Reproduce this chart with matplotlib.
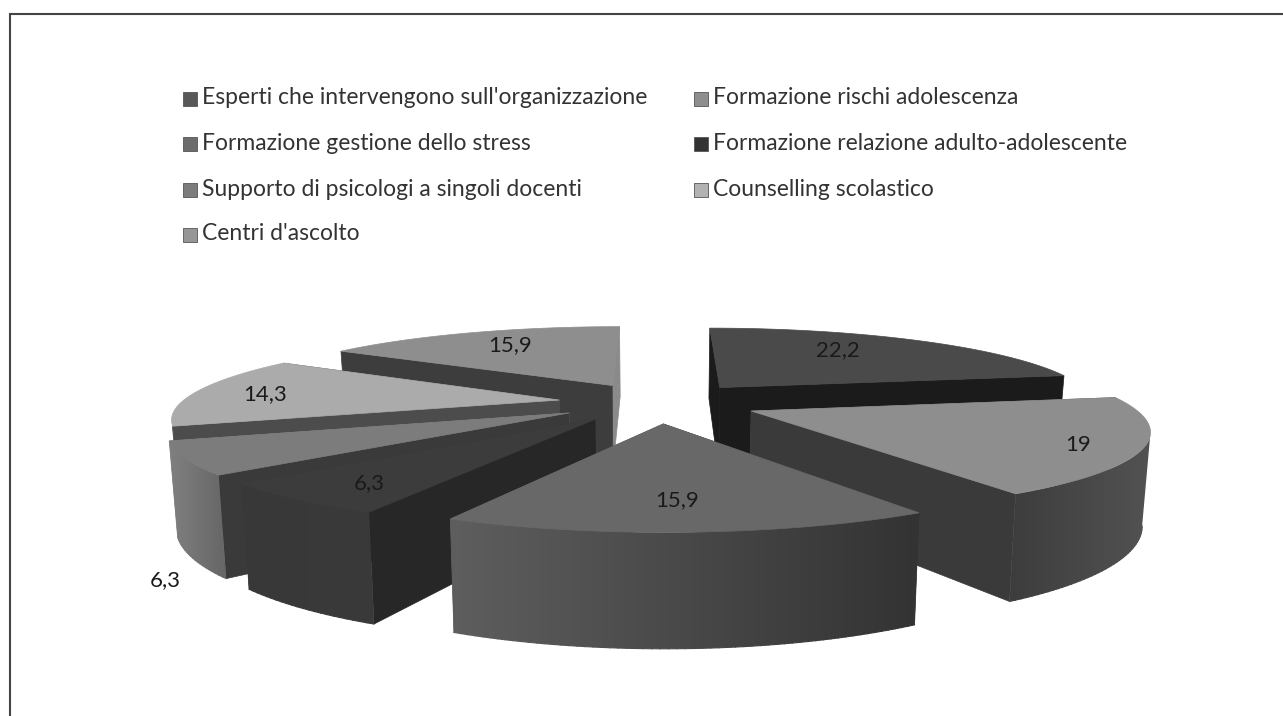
import numpy as np
import matplotlib
matplotlib.use("Agg")
import matplotlib.pyplot as plt
from matplotlib.colors import to_rgb
from matplotlib.patches import Polygon, Rectangle

# Values
categories = ["Esperti che intervengono sull'organizzazione", "Formazione rischi adolescenza",
              "Formazione gestione dello stress", "Formazione relazione adulto-adolescente",
              "Supporto di psicologi a singoli docenti", "Counselling scolastico",
              "Centri d'ascolto"]
values = [22.2, 19, 15.9, 6.3, 6.3, 14.3, 15.9]
value_labels = ["22,2", "19", "15,9", "6,3", "6,3", "14,3", "15,9"]

# Greys for each slice
top_colors = ["#4a4a4a", "#8e8e8e", "#686868", "#3c3c3c", "#7c7c7c", "#ababab", "#8e8e8e"]
radial_start = ["#1b1b1b", "#525252", "#333333", "#272727", "#3a3a3a", "#4c4c4c", "#3d3d3d"]
radial_end = ["#1b1b1b", "#3a3a3a", "#5e5e5e", "#383838", "#808080", "#4c4c4c", "#8a8a8a"]
rim_left = ["#1b1b1b", "#3d3d3d", "#5e5e5e", "#383838", "#808080", "#4c4c4c", "#3d3d3d"]
rim_right = ["#1b1b1b", "#525252", "#333333", "#3a3a3a", "#666666", "#4c4c4c", "#3d3d3d"]
legend_colors = ["#585858", "#8e8e8e", "#6c6c6c", "#333333", "#7c7c7c", "#b2b2b2", "#969696"]

# Layout, in pixels of the picture
CX, CY = 658, 402.5
RADIUS = 378
EXPLODE = 100
DEPTH = 5.0 * RADIUS   # camera distance
TILT = 0.203           # vertical squash of the ground plane
HEIGHT = 87
LOWER_SHRINK = 0.983

label_x = [838, 1078, 677, 369, 165, 265, 510]
label_y = [350, 445, 500, 483, 580, 394, 345]
legend_x = [183, 694]
legend_y = [99, 144, 190, 235]

order = [0]


def next_z():
    order[0] += 1
    return 2 + order[0]


def project(u, v, lower=False):
    # perspective projection of a point of the pie, front is v < 0
    s = DEPTH / (DEPTH + v)
    x = CX + u * s * (LOWER_SHRINK if lower else 1)
    y = CY - TILT * v * s + (HEIGHT * s if lower else 0)
    return x, y


def add_poly(ax, pts, color):
    ax.add_patch(Polygon(pts, closed=True, facecolor=color, edgecolor=color, linewidth=0.5, zorder=next_z()))


def add_rim(ax, i, rim_u, rim_v):
    # outer wall: horizontal gradient clipped to the wall outline
    upper = [project(u, v) for u, v in zip(rim_u, rim_v)]
    lower = [project(u, v, True) for u, v in zip(rim_u, rim_v)]
    pts = upper + lower[::-1]
    xs = [p[0] for p in pts]
    ys = [p[1] for p in pts]
    shade = np.linspace(0, 1, 256)[:, None]
    left, right = np.array(to_rgb(rim_left[i])), np.array(to_rgb(rim_right[i]))
    grad = left + (right - left) * shade
    z = next_z()
    im = ax.imshow(grad[None, :, :], extent=(min(xs), max(xs), max(ys), min(ys)), aspect="auto",
                   zorder=z, interpolation="bilinear")
    im.set_clip_path(Polygon(pts, closed=True, transform=ax.transData))
    # smooth the clipped bottom edge
    for k in range(len(lower) - 1):
        t = (lower[k][0] - min(xs)) / (max(xs) - min(xs))
        ax.plot([lower[k][0], lower[k + 1][0]], [lower[k][1], lower[k + 1][1]],
                color=tuple(left + (right - left) * t), lw=0.8, zorder=z)


def draw_slice(ax, i, start, end):
    mid = (start + end) / 2
    ou, ov = EXPLODE * np.sin(mid), EXPLODE * np.cos(mid)
    angles = np.linspace(start, end, max(int((end - start) * 60), 8))
    rim_u = ou + RADIUS * np.sin(angles)
    rim_v = ov + RADIUS * np.cos(angles)

    # the two radial walls, far one first
    walls = [(0, radial_start[i]), (-1, radial_end[i])]
    for k, color in sorted(walls, key=lambda w: -rim_v[w[0]]):
        add_poly(ax, [project(ou, ov), project(rim_u[k], rim_v[k]),
                      project(rim_u[k], rim_v[k], True), project(ou, ov, True)], color)

    # rim runs between the silhouette points of the projected slice
    xs = np.array([project(u, v)[0] for u, v in zip(rim_u, rim_v)])
    if mid < np.pi:
        lo, hi = int(np.argmax(xs)), len(xs) - 1
    else:
        lo, hi = 0, int(np.argmin(xs))
    if hi - lo > 1:
        add_rim(ax, i, rim_u[lo:hi + 1], rim_v[lo:hi + 1])

    top = [project(ou, ov)] + [project(u, v) for u, v in zip(rim_u, rim_v)]
    add_poly(ax, top, top_colors[i])


plt.rcParams["font.family"] = ["Lato", "DejaVu Sans"]

fig = plt.figure(figsize=(12.83, 7.16), dpi=100, facecolor="white")
ax = fig.add_axes([0, 0, 1, 1])

# frame of the page, open on the right and at the bottom
ax.plot([9.5, 9.5, 1283], [716, 14, 14], color="#444444", lw=1.5, solid_joinstyle="miter")

# slices, from the far ones to the near ones
edges = np.cumsum([0] + values) / sum(values) * 2 * np.pi
mids = (edges[:-1] + edges[1:]) / 2
for i in np.argsort(-np.cos(mids)):
    draw_slice(ax, i, edges[i], edges[i + 1])

for i, text in enumerate(value_labels):
    ax.text(label_x[i], label_y[i], text, ha="center", va="center", fontsize=16, color="#1a1a1a", zorder=100)

# legend, filled row by row in two columns
for i, name in enumerate(categories):
    col, row = i % 2, i // 2
    ax.add_patch(Rectangle((legend_x[col], legend_y[row] - 7), 14, 14, facecolor=legend_colors[i],
                           edgecolor="#555555", linewidth=0.6))
    ax.text(legend_x[col] + 19, legend_y[row] - 1, name, va="center", ha="left", fontsize=16.5, color="#333333")

ax.set_xlim(0, 1283)
ax.set_ylim(716, 0)
ax.axis("off")

fig.savefig("out.png", dpi=100)
